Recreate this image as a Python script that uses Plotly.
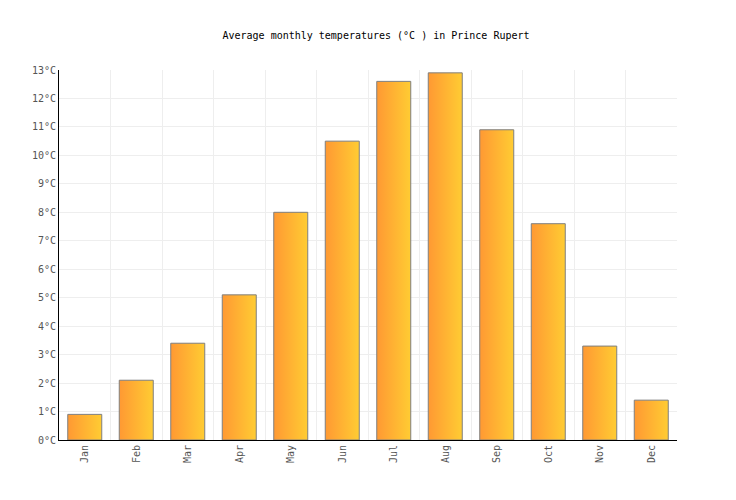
import plotly.graph_objects as go

# monthly averages, Prince Rupert
months = ["Jan", "Feb", "Mar", "Apr", "May", "Jun",
          "Jul", "Aug", "Sep", "Oct", "Nov", "Dec"]
temps = [0.9, 2.1, 3.4, 5.1, 8.0, 10.5, 12.6, 12.9, 10.9, 7.6, 3.3, 1.4]
y_ticks = list(range(0, 14))

half = 0.33  # half bar width, in category units
fig = go.Figure()

# each bar is a filled box so it can carry the left-to-right gradient
for i, (m, t) in enumerate(zip(months, temps)):
    fig.add_trace(go.Scatter(
        x=[i - half, i - half, i + half, i + half, i - half],
        y=[0, t, t, 0, 0],
        mode="lines",
        fill="toself",
        fillgradient=dict(
            type="horizontal",
            colorscale=[[0, "#ff9933"], [1, "#ffcc33"]],
        ),
        line=dict(color="#7f7f7f", width=1),
        name=m,
        hovertemplate=m + ": %{y}°C<extra></extra>",
    ))

font = "DejaVu Sans Mono"
# the page puts the plot 8px in from the top-left corner
fig.update_layout(
    width=736,
    height=500,
    showlegend=False,
    plot_bgcolor="white",
    paper_bgcolor="white",
    margin=dict(l=51, r=67, t=62, b=68),
    title=dict(
        text="Average monthly temperatures (°C ) in Prince Rupert",
        x=0.5, xanchor="center", y=0.946, yanchor="middle",
        font=dict(family=font, size=10, color="black"),
    ),
    xaxis=dict(
        range=[-0.5, 11.5],
        tickvals=list(range(len(months))),
        ticktext=months,
        tickangle=-90,
        showgrid=False,
        zeroline=False,
        ticks="",
        tickfont=dict(family=font, size=10, color="#555555"),
        minor=dict(
            tickvals=[i + 0.5 for i in range(len(months))],
            showgrid=True, gridcolor="#eeeeee", gridwidth=1, ticks="",
        ),
        showline=True, linecolor="black", linewidth=1,
        fixedrange=True,
    ),
    yaxis=dict(
        range=[0, 13],
        tickvals=y_ticks,
        ticktext=[f"{v}°C" for v in y_ticks],
        showgrid=True, gridcolor="#eeeeee", gridwidth=1,
        zeroline=False,
        ticks="",
        tickfont=dict(family=font, size=10, color="#555555"),
        showline=True, linecolor="black", linewidth=1,
        fixedrange=True,
    ),
)

fig.write_html("out.html")
